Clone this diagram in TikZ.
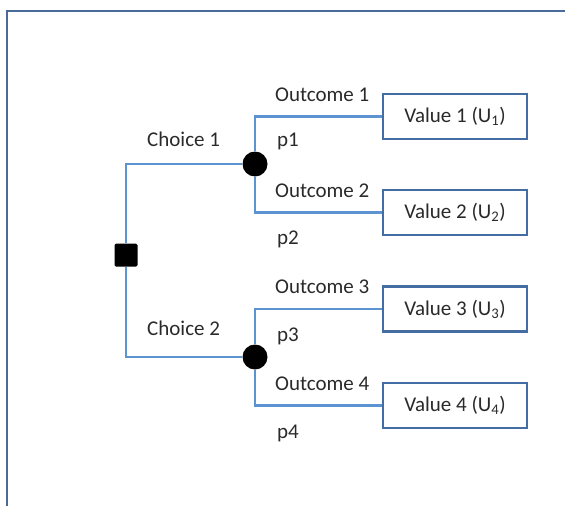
\documentclass[tikz,border=0pt]{standalone}
\usepackage{fontspec}
\setmainfont{Carlito}
\definecolor{framecol}{HTML}{4A6A9A}
\definecolor{branchcol}{HTML}{5B93D3}
\definecolor{boxcol}{HTML}{446DA3}
\definecolor{txtcol}{HTML}{2A2A2A}
\begin{document}
\begin{tikzpicture}[x=1pt,y=-1pt,
  every node/.style={font=\fontsize{21}{25}\selectfont, text=txtcol},
  frame/.style={draw=framecol, line width=2.8pt},
  branch/.style={draw=branchcol, line width=2.4pt},
  decision/.style={rectangle, fill=black, minimum size=23pt, inner sep=0pt, rounded corners=1.5pt},
  chance/.style={circle, fill=black, minimum size=25pt, inner sep=0pt},
  valbox/.style={rectangle, draw=boxcol, line width=2.8pt, fill=white, minimum width=144pt, minimum height=45pt, inner sep=0pt},
  lbl/.style={anchor=base west, inner sep=0pt}]
\useasboundingbox (0,0) rectangle (565,506);

% page frame (left and top edges)
\draw[frame] (7,506) -- (7,11) -- (565,11);

% decision and chance nodes
\node[decision] (sq) at (126,255) {};
\node[chance] (c1) at (255,164) {};
\node[chance] (c2) at (255,357) {};

% terminal values
\node[valbox] (b1) at (455,116.5) {Value 1 (U\textsubscript{1})};
\node[valbox] (b2) at (455,212.5) {Value 2 (U\textsubscript{2})};
\node[valbox] (b3) at (455,309) {Value 3 (U\textsubscript{3})};
\node[valbox] (b4) at (455,405.5) {Value 4 (U\textsubscript{4})};

% branches
\draw[branch] (sq) |- (c1);
\draw[branch] (sq) |- (c2);
\draw[branch] (c1) |- (b1);
\draw[branch] (c1) |- (b2);
\draw[branch] (c2) |- (b3);
\draw[branch] (c2) |- (b4);

% branch labels
\node[lbl] (ch1) at (147,146.7) {Choice 1};
\node[lbl] (ch2) at (147,335.7) {Choice 2};
\node[lbl] (o1) at (275,101.7) {Outcome 1};
\node[lbl] (o2) at (275,197.7) {Outcome 2};
\node[lbl] (o3) at (275,293.7) {Outcome 3};
\node[lbl] (o4) at (275,390.7) {Outcome 4};
\node[lbl] (p1) at (277,146) {p1};
\node[lbl] (p2) at (277,244) {p2};
\node[lbl] (p3) at (277,341) {p3};
\node[lbl] (p4) at (277,438) {p4};
\end{tikzpicture}
\end{document}
